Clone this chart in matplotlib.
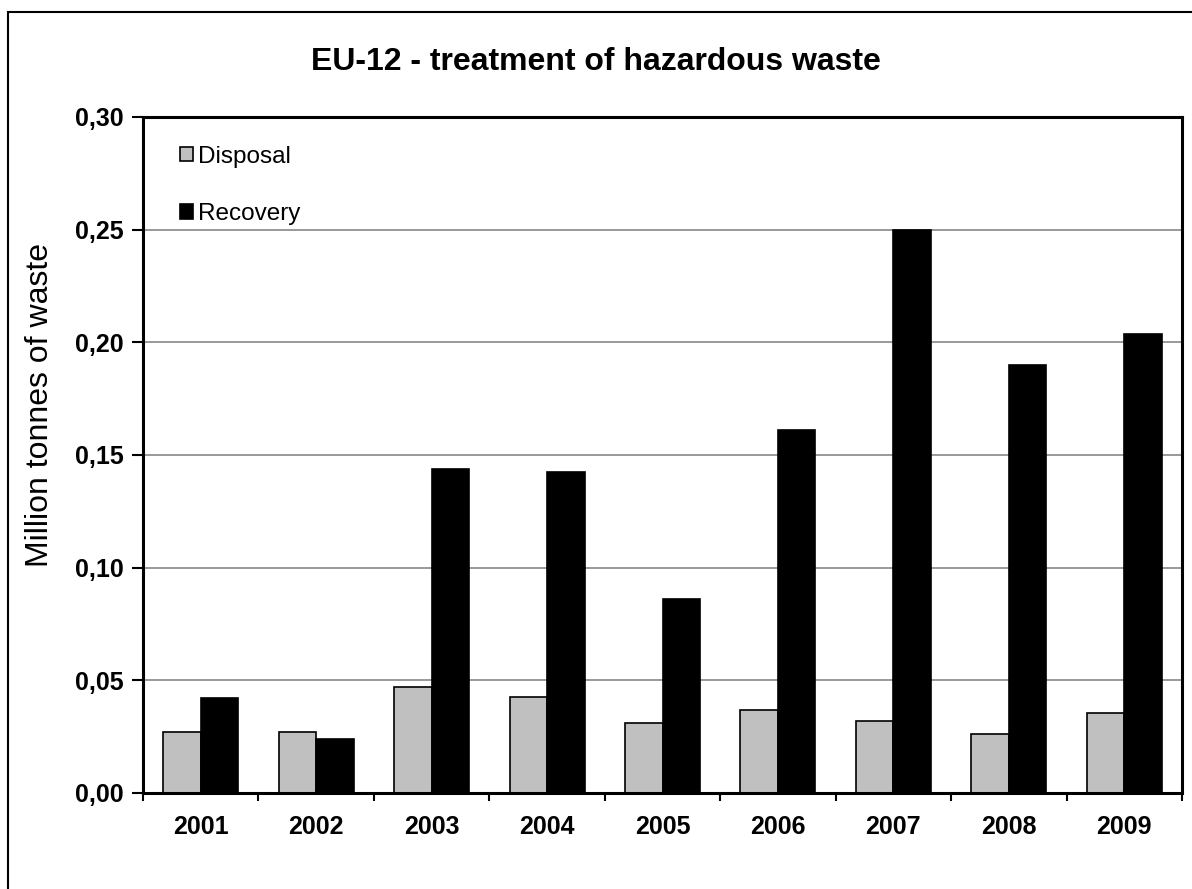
import matplotlib
matplotlib.use("Agg")
import matplotlib.pyplot as plt
import numpy as np
from matplotlib.patches import Rectangle

years = ["2001", "2002", "2003", "2004", "2005", "2006", "2007", "2008", "2009"]
disposal = [0.027, 0.027, 0.047, 0.0425, 0.031, 0.037, 0.032, 0.026, 0.0355]
recovery = [0.042, 0.024, 0.144, 0.1425, 0.086, 0.161, 0.250, 0.190, 0.2035]
yticks = [0.00, 0.05, 0.10, 0.15, 0.20, 0.25, 0.30]

plt.rcParams['font.family'] = ['Liberation Sans', 'DejaVu Sans']

fig = plt.figure(figsize=(11.92, 8.89), dpi=100)
ax = fig.add_axes([143 / 1192, 1 - 793 / 889, (1182 - 143) / 1192, (793 - 117) / 889])

# figure border (left and top visible, the rest runs off the image)
fig.patches.append(Rectangle((8 / 1192, -0.1), 1.2, 1 - 12 / 889 + 0.1,
                             transform=fig.transFigure, fill=False,
                             edgecolor='black', linewidth=1.5))

x = np.arange(len(years))
w = 0.325
ax.bar(x - w / 2, disposal, w, color='#c0c0c0', edgecolor='black', linewidth=1.2,
       label='Disposal', zorder=3)
ax.bar(x + w / 2, recovery, w, color='black', edgecolor='black', linewidth=1.2,
       label='Recovery', zorder=3)

ax.set_xlim(-0.5, len(years) - 0.5)
ax.set_ylim(0, 0.30)
ax.set_yticks(yticks)
ax.set_yticklabels([f"{v:.2f}".replace('.', ',') for v in yticks],
                   fontsize=18, fontweight='bold')
ax.set_xticks(x)
ax.set_xticklabels(years, fontsize=18, fontweight='bold')
ax.set_xticks(np.arange(len(years) + 1) - 0.5, minor=True)
ax.tick_params(axis='x', which='major', length=0, pad=16)
ax.tick_params(axis='x', which='minor', length=6, width=1.5, direction='out')
ax.tick_params(axis='y', length=8, width=1.5, direction='out', pad=6)

for y in yticks[1:-1]:
    ax.axhline(y, color='#888888', linewidth=1.2, zorder=1)

for s in ax.spines.values():
    s.set_linewidth(2.2)
    s.set_zorder(4)

ax.set_ylabel("Million tonnes of waste", fontsize=23, va='center')
ax.yaxis.set_label_coords((40 - 143) / 1039, (793 - 405) / 676)
fig.text(0.5, 1 - 62 / 889, "EU-12 - treatment of hazardous waste",
         ha='center', va='center', fontsize=23, fontweight='bold')

ax.legend(loc='upper left', bbox_to_anchor=(0.026, 0.972), frameon=False,
          fontsize=17.5, handlelength=0.55, handleheight=0.55,
          handletextpad=0.2, labelspacing=1.45, borderaxespad=0)

fig.savefig("out.png", dpi=100)
